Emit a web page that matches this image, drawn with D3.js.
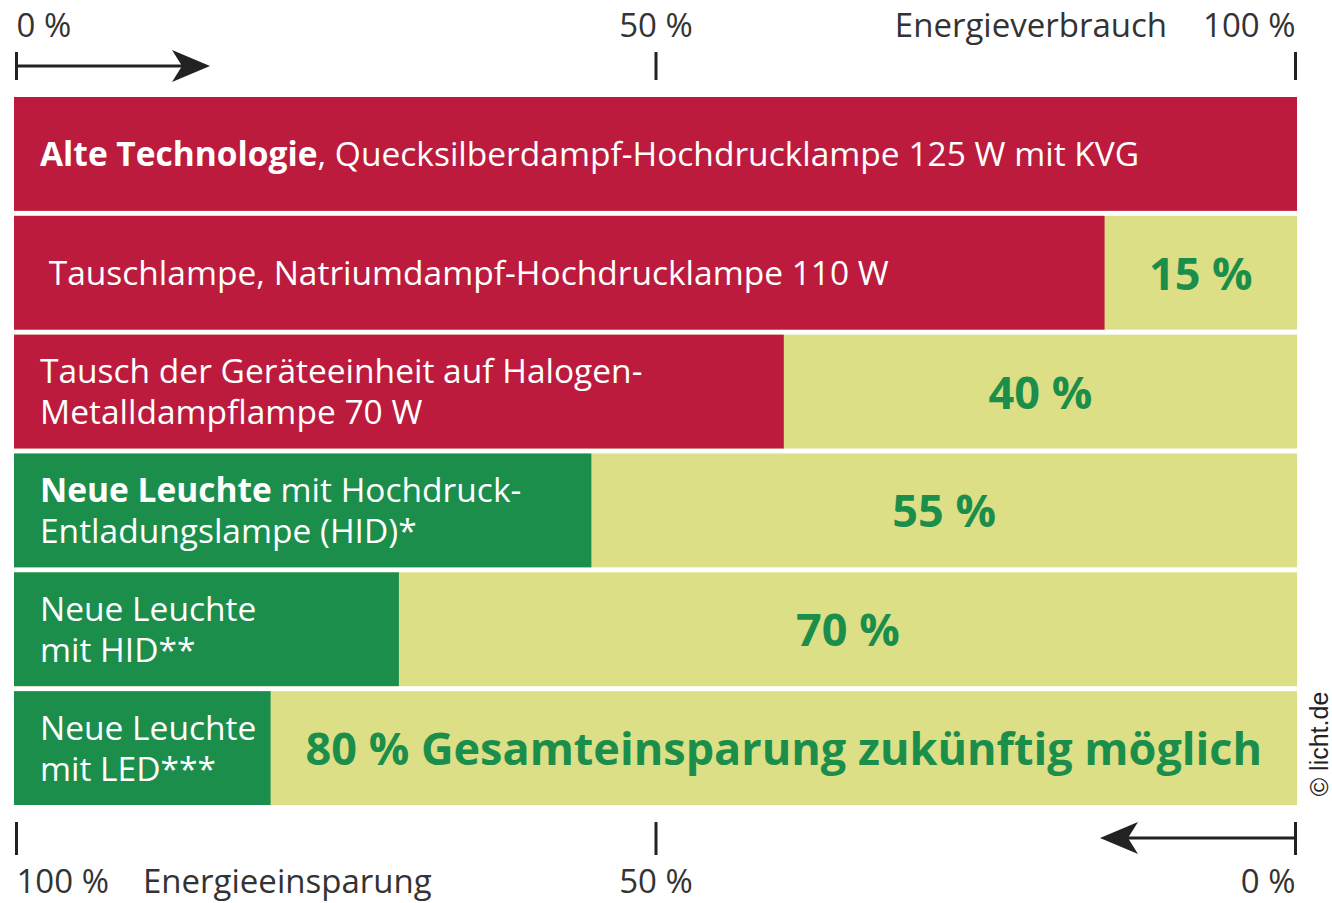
<!DOCTYPE html>
<html>
<head>
<meta charset="utf-8">
<script src="https://cdn.jsdelivr.net/npm/d3@7"></script>
<style>
  body { margin: 0; background: #fff; }
  text { font-family: "Open Sans", sans-serif; }
</style>
</head>
<body>
<div id="chart"></div>
<script>
// data
const categories = ["alt", "tausch", "geraet", "hid1", "hid2", "led"]
const groups = ["old", "old", "old", "new", "new", "new"]
const consumption = [100, 85, 60, 45, 30, 20]
const savings = [0, 15, 40, 55, 70, 80]
const labelBold = ["Alte Technologie", "", "", "Neue Leuchte", "", ""]
const labelLines = [
  [", Quecksilberdampf-Hochdrucklampe 125 W mit KVG"],
  [" Tauschlampe, Natriumdampf-Hochdrucklampe 110 W"],
  ["Tausch der Geräteeinheit auf Halogen-", "Metalldampflampe 70 W"],
  [" mit Hochdruck-", "Entladungslampe (HID)*"],
  ["Neue Leuchte", "mit HID**"],
  ["Neue Leuchte", "mit LED***"]
]
const savingExtra = ["", "", "", "", "", " Gesamteinsparung zukünftig möglich"]
const consumptionTicks = [0, 50, 100]
const savingTicks = [100, 50, 0]

const WIDTH = 1332, HEIGHT = 903
const svg = d3.select("#chart").append("svg")
  .attr("width", WIDTH).attr("height", HEIGHT)

const rows = categories.map((c, i) => ({
  key: c, group: groups[i], used: consumption[i], saved: savings[i],
  bold: labelBold[i], lines: labelLines[i], extra: savingExtra[i]
}))

const x = d3.scaleLinear().domain([0, 100]).range([14, 1297])
const xTick = d3.scaleLinear().domain([0, 100]).range([16, 1295])
const xSave = d3.scaleLinear().domain([100, 0]).range([16, 1295])
const y = d3.scaleBand().domain(categories).range([97, 805]).paddingInner(0.042)
const color = d3.scaleOrdinal().domain(["old", "new"]).range(["#bc1b3d", "#1b8e4b"])
const pct = d => d + " %"

// background (savings part)
svg.selectAll("rect.bg").data(rows).enter().append("rect")
  .attr("class", "bg")
  .attr("x", x(0)).attr("y", d => y(d.key))
  .attr("width", x(100) - x(0)).attr("height", y.bandwidth())
  .attr("fill", "#dcdf86")

// consumption bars
svg.selectAll("rect.bar").data(rows).enter().append("rect")
  .attr("class", "bar")
  .attr("x", x(0)).attr("y", d => y(d.key))
  .attr("width", d => x(d.used) - x(0)).attr("height", y.bandwidth())
  .attr("fill", d => color(d.group))

// bar labels
const labels = svg.selectAll("text.label").data(rows).enter().append("text")
  .attr("class", "label")
  .attr("fill", "#fff")
  .attr("font-size", "33.5px")
  .style("white-space", "pre")

labels.each(function (d) {
  const t = d3.select(this)
  const n = d.lines.length
  const mid = y(d.key) + y.bandwidth() / 2
  d.lines.forEach((line, li) => {
    const base = mid + 12 + (li - (n - 1) / 2) * 41
    if (li === 0 && d.bold) {
      t.append("tspan").attr("x", 40).attr("y", base)
        .attr("font-weight", "bold").text(d.bold)
      t.append("tspan").text(line)
    } else {
      t.append("tspan").attr("x", 40).attr("y", base).text(line)
    }
  })
})

// savings labels
svg.selectAll("text.saving").data(rows.filter(d => d.saved > 0)).enter().append("text")
  .attr("class", "saving")
  .attr("x", d => (x(d.used) + x(100)) / 2)
  .attr("y", d => y(d.key) + y.bandwidth() / 2 + 17)
  .attr("text-anchor", "middle")
  .attr("font-size", "45px")
  .attr("font-weight", "bold")
  .attr("fill", "#1b8e4b")
  .text(d => pct(d.saved) + d.extra)

// top axis (consumption)
const topAxis = svg.append("g")
  .attr("transform", "translate(0,80)")
  .call(d3.axisTop(xTick).tickValues(consumptionTicks).tickSize(28).tickFormat(pct))
topAxis.select(".domain").remove()
topAxis.selectAll("line").attr("stroke", "#222").attr("stroke-width", 3)
topAxis.selectAll("text")
  .attr("y", -43).attr("fill", "#333").attr("font-size", "33px")
  .attr("text-anchor", d => d === 0 ? "start" : d === 100 ? "end" : "middle")

svg.append("text")
  .attr("x", xTick(100) - 128).attr("y", 37)
  .attr("text-anchor", "end").attr("font-size", "33px").attr("fill", "#333")
  .text("Energieverbrauch")

// bottom axis (savings)
const bottomAxis = svg.append("g")
  .attr("transform", "translate(0,822)")
  .call(d3.axisBottom(xSave).tickValues(savingTicks).tickSize(33).tickFormat(pct))
bottomAxis.select(".domain").remove()
bottomAxis.selectAll("line").attr("stroke", "#222").attr("stroke-width", 3)
bottomAxis.selectAll("text")
  .attr("y", 71).attr("dy", null).attr("fill", "#333").attr("font-size", "33px")
  .attr("text-anchor", d => d === 100 ? "start" : d === 0 ? "end" : "middle")

svg.append("text")
  .attr("x", xSave(100) + 127).attr("y", 893)
  .attr("font-size", "33px").attr("fill", "#333")
  .text("Energieeinsparung")

// arrows
const arrow = (x1, x2, yy) => {
  const dir = Math.sign(x2 - x1)
  svg.append("line")
    .attr("x1", x1).attr("x2", x2 - dir * 20).attr("y1", yy).attr("y2", yy)
    .attr("stroke", "#222").attr("stroke-width", 3)
  svg.append("path")
    .attr("d", `M${x2},${yy} L${x2 - dir * 38},${yy - 16} L${x2 - dir * 28},${yy} L${x2 - dir * 38},${yy + 16} Z`)
    .attr("fill", "#222")
}
arrow(xTick(0), 210, 66)
arrow(xSave(0), 1100, 838)

// copyright
svg.append("text")
  .attr("transform", "translate(1328,744) rotate(-90)")
  .attr("text-anchor", "middle")
  .style("font-family", "Liberation Sans, Arial, sans-serif")
  .attr("font-size", "25px").attr("fill", "#222")
  .text("© licht.de")
</script>
</body>
</html>
